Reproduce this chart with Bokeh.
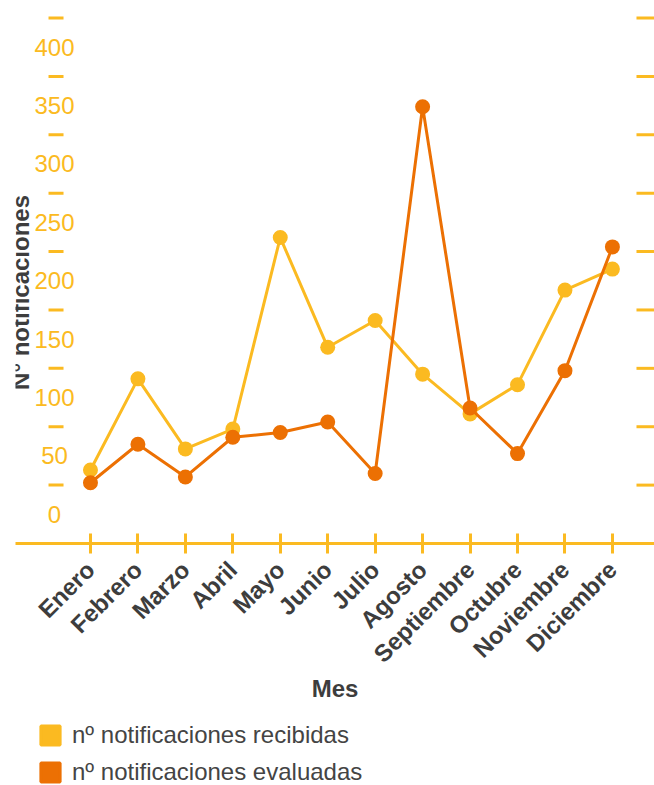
import math
from bokeh.plotting import figure
from bokeh.layouts import column
from bokeh.models import (Range1d, FixedTicker, ColumnDataSource, Legend, LegendItem, Label)
from bokeh.core.properties import value
from bokeh.embed import file_html
from bokeh.resources import INLINE

# ---- data ----
months = ["Enero", "Febrero", "Marzo", "Abril", "Mayo", "Junio", "Julio",
          "Agosto", "Septiembre", "Octubre", "Noviembre", "Diciembre"]
recibidas = [38, 116, 56, 73, 237, 143, 166, 120, 86, 111, 192, 210]
evaluadas = [27, 60, 32, 66, 70, 79, 35, 349, 91, 52, 123, 229]
y_label_values = [0, 50, 100, 150, 200, 250, 300, 350, 400]
y_label_texts = ["0", "50", "100", "150", "200", "250", "300", "350", "400"]
y_tick_marks = [25, 75, 125, 175, 225, 275, 325, 375, 425]
legend_labels = ["nº notificaciones recibidas", "nº notificaciones evaluadas"]

YELLOW = "#FBBA21"
ORANGE = "#EC7003"
DARK = "#3d3d3d"
FONT = "Liberation Sans"

x = list(range(len(months)))

p = figure(frame_width=639, frame_height=543, output_backend="svg",
           toolbar_location=None, x_range=Range1d(-1.58, 11.887),
           y_range=Range1d(-25, 440), min_border_left=15, min_border_right=0,
           min_border_top=0, min_border_bottom=0)
p.outline_line_color = None
p.xgrid.visible = False
p.ygrid.visible = False
p.yaxis.visible = False
p.background_fill_color = "white"
p.border_fill_color = "white"

# x axis
xa = p.xaxis[0]
xa.ticker = FixedTicker(ticks=x)
xa.major_label_overrides = {i: m for i, m in enumerate(months)}
xa.axis_line_color = YELLOW
xa.axis_line_width = 3
xa.major_tick_line_color = YELLOW
xa.major_tick_line_width = 3
xa.major_tick_in = 10
xa.major_tick_out = 10
xa.minor_tick_line_color = None
xa.major_label_orientation = math.pi / 4
xa.major_label_text_font = FONT
xa.major_label_text_font_style = "bold"
xa.major_label_text_font_size = "24px"
xa.major_label_text_color = DARK
xa.major_label_standoff = 12
xa.axis_label = "Mes"
xa.axis_label_text_font = FONT
xa.axis_label_text_font_style = "bold"
xa.axis_label_text_font_size = "24px"
xa.axis_label_text_color = DARK
xa.axis_label_standoff = -5

# y tick labels and tick marks drawn inside the frame
lab_src = ColumnDataSource(dict(y=y_label_values, t=y_label_texts,
                                x=[-0.758] * len(y_label_values)))
p.text(x="x", y="y", text="t", source=lab_src, text_align="center",
       text_baseline="middle", text_color=YELLOW,
       text_font=value(FONT), text_font_size=value("24px"))
tick_src = ColumnDataSource(dict(y=y_tick_marks,
                                 xl=[-0.726] * len(y_tick_marks),
                                 xr=[11.697] * len(y_tick_marks)))
p.scatter(x="xl", y="y", source=tick_src, marker="dash", size=15,
          line_color=YELLOW, line_width=3)
p.scatter(x="xr", y="y", source=tick_src, marker="dash", size=18,
          line_color=YELLOW, line_width=3)

p.add_layout(Label(x=-1.475, y=190, text="N° notificaciones", angle=math.pi / 2,
                   text_align="center", text_baseline="middle",
                   text_font=FONT, text_font_style="bold",
                   text_font_size="24px", text_color=DARK))

# series
src = ColumnDataSource(dict(x=x, rec=recibidas, ev=evaluadas))
p.line("x", "rec", source=src, line_color=YELLOW, line_width=3)
p.scatter("x", "rec", source=src, size=15, fill_color=YELLOW, line_color=None)
p.line("x", "ev", source=src, line_color=ORANGE, line_width=3)
p.scatter("x", "ev", source=src, size=15, fill_color=ORANGE, line_color=None)

# legend in a small companion figure below the chart
lg = figure(width=654, height=81, output_backend="svg", toolbar_location=None,
            x_range=Range1d(0, 1), y_range=Range1d(0, 1),
            min_border_left=0, min_border_right=0, min_border_top=0,
            min_border_bottom=0)
lg.axis.visible = False
lg.grid.visible = False
lg.outline_line_color = None
lg.background_fill_color = "white"
lg.border_fill_color = "white"
sw_src = ColumnDataSource(dict(l=[0], r=[1], t=[1], b=[0]))
r1 = lg.quad(left="l", right="r", top="t", bottom="b", source=sw_src,
             fill_color=YELLOW, line_color=YELLOW, line_width=3)
r2 = lg.quad(left="l", right="r", top="t", bottom="b", source=sw_src,
             fill_color=ORANGE, line_color=ORANGE, line_width=3)
r1.visible = False
r2.visible = False
legend = Legend(items=[LegendItem(label=legend_labels[0], renderers=[r1]),
                       LegendItem(label=legend_labels[1], renderers=[r2])],
                location=(23, 0), orientation="vertical",
                glyph_width=24, glyph_height=24, label_standoff=10, spacing=9,
                margin=0, padding=0, border_line_color=None,
                background_fill_alpha=0,
                label_text_font=FONT, label_text_font_size="24px",
                label_text_color="#444444", label_height=24)
lg.add_layout(legend, "center")

layout = column(p, lg, spacing=0)
open("out.html", "w").write(file_html(layout, INLINE))
